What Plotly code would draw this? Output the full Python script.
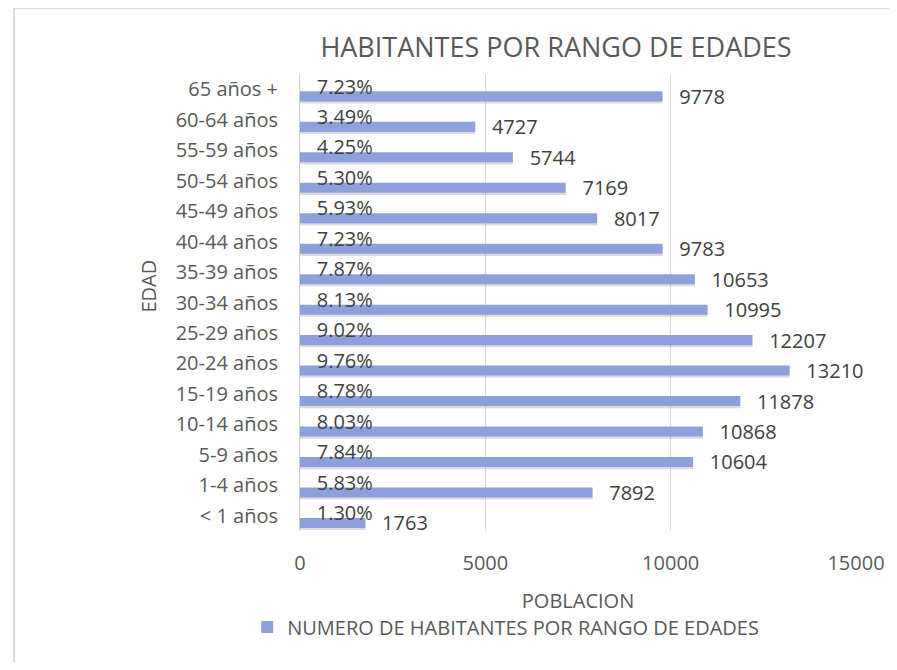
import plotly.graph_objects as go

categorias = ["< 1 años", "1-4 años", "5-9 años", "10-14 años", "15-19 años",
              "20-24 años", "25-29 años", "30-34 años", "35-39 años", "40-44 años",
              "45-49 años", "50-54 años", "55-59 años", "60-64 años", "65 años +"]
habitantes = [1763, 7892, 10604, 10868, 11878, 13210, 12207, 10995, 10653, 9783,
              8017, 7169, 5744, 4727, 9778]
porcentaje = [0.0130, 0.0583, 0.0784, 0.0803, 0.0878, 0.0976, 0.0902, 0.0813,
              0.0787, 0.0723, 0.0593, 0.0530, 0.0425, 0.0349, 0.0723]
x_ticks = [0, 5000, 10000, 15000]

FONT = "Open Sans"
PAD = "\u00a0\u00a0\u2009"
BAR = "#8DA0DB"

# page body has an 8px margin: work in reference pixels, then shift
OFF = 8
W, H = 897 - OFF, 670 - 2 * OFF
L, R, T = 300 - OFF, 897 - 858, 74 - OFF
B = H - (531 - OFF)
pw, ph = W - L - R, H - T - B


def px_x(x):  # reference pixel x -> paper
    return (x - OFF - L) / pw


def px_y(y):  # reference pixel y -> paper
    return (T + ph - (y - OFF)) / ph


fig = go.Figure()

# soft shadow under count bars
fig.add_trace(go.Bar(
    y=categorias, x=habitantes, orientation="h",
    width=0.34, offset=-0.47,
    marker=dict(color="rgba(90,90,90,0.22)", line=dict(width=0)),
    hoverinfo="skip", showlegend=False,
))

fig.add_trace(go.Bar(
    y=categorias, x=habitantes, orientation="h",
    name="NUMERO DE HABITANTES POR RANGO DE EDADES",
    width=0.33, offset=-0.40,
    marker=dict(color=BAR, line=dict(width=0)),
    text=[PAD + str(v) for v in habitantes], textposition="outside",
    textfont=dict(family=FONT, size=20, color="#404040"),
    constraintext="none", cliponaxis=False,
))

fig.add_trace(go.Bar(
    y=categorias, x=porcentaje, orientation="h",
    name="PORCENTAJE",
    width=0.33, offset=-0.06,
    marker=dict(color="rgba(0,0,0,0)"),
    text=[PAD + f"{p*100:.2f}%" for p in porcentaje], textposition="outside",
    textfont=dict(family=FONT, size=20, color="#404040"),
    constraintext="none", cliponaxis=False, showlegend=False,
))

fig.update_layout(
    width=W, height=H,
    margin=dict(l=L, r=R, t=T, b=B),
    barmode="overlay",
    paper_bgcolor="white", plot_bgcolor="white",
    font=dict(family=FONT, color="#595959", size=20),
    title=dict(text="HABITANTES POR RANGO DE EDADES",
               font=dict(family=FONT, size=27, color="#595959"),
               x=(556 - OFF) / W, xanchor="center",
               y=1 - (48 - OFF) / H, yanchor="middle"),
    xaxis=dict(range=[0, 15000], tickvals=x_ticks, ticktext=[str(v) for v in x_ticks],
               showgrid=True, gridcolor="#d9d9d9", gridwidth=1,
               zeroline=False, showline=False,
               ticks="outside", ticklen=14, tickcolor="rgba(0,0,0,0)",
               tickfont=dict(family=FONT, size=20, color="#595959"),
               title=dict(text="POBLACION", standoff=18,
                          font=dict(family=FONT, size=20, color="#595959"))),
    yaxis=dict(type="category", categoryorder="array", categoryarray=categorias,
               showline=True, linecolor="#d0d0d0", linewidth=1,
               showgrid=False, zeroline=False,
               ticks="outside", ticklen=17, tickcolor="rgba(0,0,0,0)",
               tickfont=dict(family=FONT, size=20, color="#595959")),
    legend=dict(orientation="h", x=px_x(247), xanchor="left",
                y=px_y(627), yanchor="middle",
                font=dict(family=FONT, size=20, color="#595959"),
                bgcolor="rgba(0,0,0,0)"),
    showlegend=True,
)

fig.add_annotation(text="EDAD", xref="paper", yref="paper",
                   x=px_x(147), y=px_y(286), xanchor="center", yanchor="middle",
                   textangle=-90, showarrow=False,
                   font=dict(family=FONT, size=20, color="#595959"))

# outer chart frame
fig.add_shape(type="rect", xref="paper", yref="paper",
              x0=px_x(13), x1=px_x(905),
              y0=px_y(680), y1=px_y(8),
              line=dict(color="#d9d9d9", width=2), layer="below")

fig.write_html("out.html")
